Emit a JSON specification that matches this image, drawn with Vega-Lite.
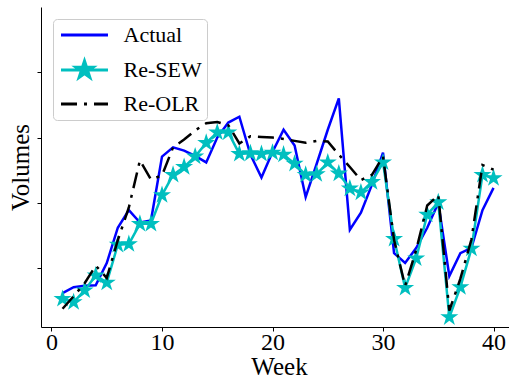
{
  "$schema": "https://vega.github.io/schema/vega-lite/v6.json",
  "width": 468,
  "height": 320,
  "autosize": {"type": "none"},
  "padding": {"left": 41, "top": 7, "right": 0, "bottom": 54},
  "config": {
    "view": {"stroke": null},
    "font": "Liberation Serif",
    "axis": {
      "grid": false,
      "domainColor": "black",
      "domainWidth": 1,
      "tickColor": "black",
      "tickWidth": 1,
      "tickSize": 4,
      "labelColor": "black",
      "labelFont": "Liberation Serif",
      "labelFontSize": 24,
      "titleColor": "black",
      "titleFont": "Liberation Serif",
      "titleFontSize": 25,
      "titleFontWeight": "normal"
    }
  },
  "data": {
    "values": [
      {"week": 1, "series": "Actual", "volume": 62}, {"week": 2, "series": "Actual", "volume": 71}, {"week": 3, "series": "Actual", "volume": 73}, {"week": 4, "series": "Actual", "volume": 74}, {"week": 5, "series": "Actual", "volume": 108},
      {"week": 6, "series": "Actual", "volume": 162}, {"week": 7, "series": "Actual", "volume": 189}, {"week": 8, "series": "Actual", "volume": 170}, {"week": 9, "series": "Actual", "volume": 173}, {"week": 10, "series": "Actual", "volume": 271},
      {"week": 11, "series": "Actual", "volume": 285}, {"week": 12, "series": "Actual", "volume": 280}, {"week": 13, "series": "Actual", "volume": 272}, {"week": 14, "series": "Actual", "volume": 262}, {"week": 15, "series": "Actual", "volume": 300},
      {"week": 16, "series": "Actual", "volume": 323}, {"week": 17, "series": "Actual", "volume": 332}, {"week": 18, "series": "Actual", "volume": 274}, {"week": 19, "series": "Actual", "volume": 239}, {"week": 20, "series": "Actual", "volume": 278},
      {"week": 21, "series": "Actual", "volume": 312}, {"week": 22, "series": "Actual", "volume": 288}, {"week": 23, "series": "Actual", "volume": 209}, {"week": 24, "series": "Actual", "volume": 260}, {"week": 25, "series": "Actual", "volume": 312},
      {"week": 26, "series": "Actual", "volume": 360}, {"week": 27, "series": "Actual", "volume": 159}, {"week": 28, "series": "Actual", "volume": 185}, {"week": 29, "series": "Actual", "volume": 228}, {"week": 30, "series": "Actual", "volume": 277},
      {"week": 31, "series": "Actual", "volume": 123}, {"week": 32, "series": "Actual", "volume": 108}, {"week": 33, "series": "Actual", "volume": 131}, {"week": 34, "series": "Actual", "volume": 162}, {"week": 35, "series": "Actual", "volume": 200},
      {"week": 36, "series": "Actual", "volume": 88}, {"week": 37, "series": "Actual", "volume": 123}, {"week": 38, "series": "Actual", "volume": 131}, {"week": 39, "series": "Actual", "volume": 189}, {"week": 40, "series": "Actual", "volume": 223},

      {"week": 1, "series": "Re-SEW", "volume": 53}, {"week": 2, "series": "Re-SEW", "volume": 48}, {"week": 3, "series": "Re-SEW", "volume": 66}, {"week": 4, "series": "Re-SEW", "volume": 89}, {"week": 5, "series": "Re-SEW", "volume": 78},
      {"week": 6, "series": "Re-SEW", "volume": 136}, {"week": 7, "series": "Re-SEW", "volume": 137}, {"week": 8, "series": "Re-SEW", "volume": 168}, {"week": 9, "series": "Re-SEW", "volume": 168}, {"week": 10, "series": "Re-SEW", "volume": 212},
      {"week": 11, "series": "Re-SEW", "volume": 243}, {"week": 12, "series": "Re-SEW", "volume": 255}, {"week": 13, "series": "Re-SEW", "volume": 271}, {"week": 14, "series": "Re-SEW", "volume": 292}, {"week": 15, "series": "Re-SEW", "volume": 308},
      {"week": 16, "series": "Re-SEW", "volume": 308}, {"week": 17, "series": "Re-SEW", "volume": 275}, {"week": 18, "series": "Re-SEW", "volume": 276}, {"week": 19, "series": "Re-SEW", "volume": 275}, {"week": 20, "series": "Re-SEW", "volume": 277},
      {"week": 21, "series": "Re-SEW", "volume": 274}, {"week": 22, "series": "Re-SEW", "volume": 260}, {"week": 23, "series": "Re-SEW", "volume": 243}, {"week": 24, "series": "Re-SEW", "volume": 244}, {"week": 25, "series": "Re-SEW", "volume": 262},
      {"week": 26, "series": "Re-SEW", "volume": 245}, {"week": 27, "series": "Re-SEW", "volume": 222}, {"week": 28, "series": "Re-SEW", "volume": 216}, {"week": 29, "series": "Re-SEW", "volume": 232}, {"week": 30, "series": "Re-SEW", "volume": 262},
      {"week": 31, "series": "Re-SEW", "volume": 145}, {"week": 32, "series": "Re-SEW", "volume": 70}, {"week": 33, "series": "Re-SEW", "volume": 115}, {"week": 34, "series": "Re-SEW", "volume": 182}, {"week": 35, "series": "Re-SEW", "volume": 201},
      {"week": 36, "series": "Re-SEW", "volume": 25}, {"week": 37, "series": "Re-SEW", "volume": 71}, {"week": 38, "series": "Re-SEW", "volume": 130}, {"week": 39, "series": "Re-SEW", "volume": 243}, {"week": 40, "series": "Re-SEW", "volume": 238},

      {"week": 1, "series": "Re-OLR", "volume": 38}, {"week": 2, "series": "Re-OLR", "volume": 57}, {"week": 3, "series": "Re-OLR", "volume": 77}, {"week": 4, "series": "Re-OLR", "volume": 104}, {"week": 5, "series": "Re-OLR", "volume": 85},
      {"week": 6, "series": "Re-OLR", "volume": 143}, {"week": 7, "series": "Re-OLR", "volume": 193}, {"week": 8, "series": "Re-OLR", "volume": 265}, {"week": 9, "series": "Re-OLR", "volume": 236}, {"week": 10, "series": "Re-OLR", "volume": 242},
      {"week": 11, "series": "Re-OLR", "volume": 285}, {"week": 12, "series": "Re-OLR", "volume": 297}, {"week": 13, "series": "Re-OLR", "volume": 311}, {"week": 14, "series": "Re-OLR", "volume": 322}, {"week": 15, "series": "Re-OLR", "volume": 324},
      {"week": 16, "series": "Re-OLR", "volume": 319}, {"week": 17, "series": "Re-OLR", "volume": 291}, {"week": 18, "series": "Re-OLR", "volume": 302}, {"week": 19, "series": "Re-OLR", "volume": 301}, {"week": 20, "series": "Re-OLR", "volume": 300},
      {"week": 21, "series": "Re-OLR", "volume": 298}, {"week": 22, "series": "Re-OLR", "volume": 295}, {"week": 23, "series": "Re-OLR", "volume": 292}, {"week": 24, "series": "Re-OLR", "volume": 295}, {"week": 25, "series": "Re-OLR", "volume": 294},
      {"week": 26, "series": "Re-OLR", "volume": 274}, {"week": 27, "series": "Re-OLR", "volume": 255}, {"week": 28, "series": "Re-OLR", "volume": 235}, {"week": 29, "series": "Re-OLR", "volume": 243}, {"week": 30, "series": "Re-OLR", "volume": 271},
      {"week": 31, "series": "Re-OLR", "volume": 143}, {"week": 32, "series": "Re-OLR", "volume": 73}, {"week": 33, "series": "Re-OLR", "volume": 128}, {"week": 34, "series": "Re-OLR", "volume": 196}, {"week": 35, "series": "Re-OLR", "volume": 212},
      {"week": 36, "series": "Re-OLR", "volume": 35}, {"week": 37, "series": "Re-OLR", "volume": 84}, {"week": 38, "series": "Re-OLR", "volume": 144}, {"week": 39, "series": "Re-OLR", "volume": 258}, {"week": 40, "series": "Re-OLR", "volume": 251}
    ]
  },
  "encoding": {
    "x": {
      "field": "week",
      "type": "quantitative",
      "scale": {"domain": [-0.95, 41.4], "nice": false, "zero": false},
      "axis": {
        "values": [0, 10, 20, 30, 40],
        "title": "Week",
        "titleX": 238,
        "labelFont": "Liberation Serif",
        "labelFontSize": 24,
        "labelPadding": -1,
        "titlePadding": 0
      }
    },
    "y": {
      "field": "volume",
      "type": "quantitative",
      "scale": {"domain": [10, 500], "nice": false, "zero": false},
      "axis": {"values": [100, 200, 300, 400], "labels": false, "title": "Volumes", "titlePadding": 3}
    }
  },
  "layer": [
    {
      "transform": [{"filter": "datum.series === 'Actual'"}],
      "mark": {"type": "line", "strokeWidth": 2.5},
      "encoding": {
        "color": {
          "field": "series",
          "type": "nominal",
          "scale": {"domain": ["Actual", "Re-SEW", "Re-OLR"], "range": ["#0000ff", "#00bfbf", "#000000"]},
          "legend": {
            "orient": "none",
            "legendX": 12,
            "legendY": 12,
            "title": null,
            "fillColor": "rgba(255,255,255,0.8)",
            "strokeColor": "#cccccc",
            "cornerRadius": 4,
            "padding": 5,
            "labelFont": "Liberation Serif",
            "labelFontSize": 22,
            "labelColor": "black",
            "symbolSize": 324,
            "symbolStrokeWidth": 3,
            "symbolOffset": 15.5,
            "labelOffset": 28,
            "rowPadding": 9,
            "encode": {
              "symbols": {
                "update": {
                  "shape": {"signal": "datum.value === 'Re-SEW' ? 'M-2.61,0H2.61M0,-1L0.2245,-0.309L0.951,-0.309L0.363,0.118L0.588,0.809L0,0.382L-0.588,0.809L-0.363,0.118L-0.951,-0.309L-0.2245,-0.309Z' : 'M-2.61,0H2.61'"},
                  "fill": {"signal": "datum.value === 'Re-SEW' ? '#00bfbf' : 'transparent'"},
                  "strokeDash": {"signal": "datum.value === 'Re-OLR' ? [16, 7, 3, 7] : []"},
                  "opacity": {"value": 1}
                }
              }
            }
          }
        }
      }
    },
    {
      "transform": [{"filter": "datum.series === 'Re-SEW'"}],
      "mark": {"type": "line", "strokeWidth": 2.5},
      "encoding": {"color": {"field": "series", "type": "nominal"}}
    },
    {
      "transform": [{"filter": "datum.series === 'Re-SEW'"}],
      "mark": {
        "type": "point",
        "shape": "M0,-1L0.2245,-0.309L0.951,-0.309L0.363,0.118L0.588,0.809L0,0.382L-0.588,0.809L-0.363,0.118L-0.951,-0.309L-0.2245,-0.309Z",
        "size": 361,
        "filled": true,
        "opacity": 1,
        "strokeWidth": 1
      },
      "encoding": {"color": {"field": "series", "type": "nominal"}}
    },
    {
      "transform": [{"filter": "datum.series === 'Re-OLR'"}],
      "mark": {"type": "line", "strokeWidth": 2.5, "strokeDash": [16, 7, 3, 7]},
      "encoding": {"color": {"field": "series", "type": "nominal"}}
    },
    {
      "data": {"values": [{}]},
      "mark": {"type": "rule", "color": "black", "strokeWidth": 1},
      "encoding": {"y": {"datum": 500}, "x": null}
    }
  ]
}
